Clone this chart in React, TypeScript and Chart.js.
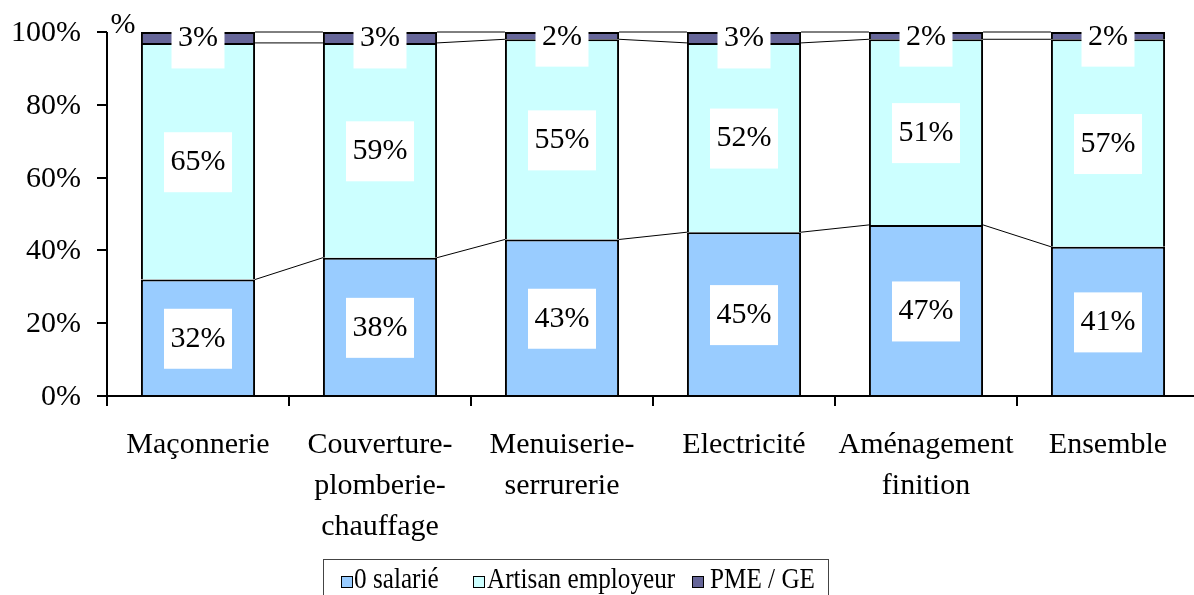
import React, { useEffect, useRef } from "react";
import { Chart, registerables } from "chart.js";

Chart.register(...registerables);

const categories: string[][] = [
  ["Maçonnerie"],
  ["Couverture-", "plomberie-", "chauffage"],
  ["Menuiserie-", "serrurerie"],
  ["Electricité"],
  ["Aménagement", "finition"],
  ["Ensemble"],
];
const seriesNames = ["0 salarié", "Artisan employeur", "PME / GE"];
const salarie = [32, 38, 43, 45, 47, 41];
const artisan = [65, 59, 55, 52, 51, 57];
const pme = [3, 3, 2, 3, 2, 2];
const yTicks = [0, 20, 40, 60, 80, 100];
const colors = ["#99CCFF", "#CCFFFF", "#666699"];

const W = 1210;
const H = 620;
const FONT = "'Liberation Serif', 'Times New Roman', serif";

const overlay = {
  id: "overlay",
  afterDatasetsDraw(chart: any) {
    const ctx = chart.ctx as CanvasRenderingContext2D;
    const area = chart.chartArea;
    const yScale = chart.scales.y;
    const xScale = chart.scales.x;
    ctx.save();

    // series lines between bars
    ctx.strokeStyle = "#000";
    ctx.lineWidth = 1;
    for (let d = 0; d < chart.data.datasets.length; d++) {
      const meta = chart.getDatasetMeta(d);
      for (let j = 0; j < meta.data.length - 1; j++) {
        const a: any = meta.data[j];
        const b: any = meta.data[j + 1];
        ctx.beginPath();
        ctx.moveTo(a.x + a.width / 2, a.y);
        ctx.lineTo(b.x - b.width / 2, b.y);
        ctx.stroke();
      }
    }

    // axes
    ctx.lineWidth = 2;
    ctx.beginPath();
    ctx.moveTo(area.left, area.top);
    ctx.lineTo(area.left, area.bottom);
    ctx.lineTo(W, area.bottom);
    ctx.stroke();

    ctx.fillStyle = "#000";
    ctx.font = `30px ${FONT}`;
    ctx.textAlign = "right";
    ctx.textBaseline = "middle";
    yTicks.forEach((t) => {
      const py = Math.round(yScale.getPixelForValue(t));
      ctx.beginPath();
      ctx.moveTo(area.left - 10, py);
      ctx.lineTo(area.left, py);
      ctx.stroke();
      ctx.fillText(`${t}%`, 81, py + 1);
    });

    const n = categories.length;
    const catW = (area.right - area.left) / n;
    for (let k = 0; k <= n; k++) {
      const px = Math.round(area.left + k * catW);
      ctx.beginPath();
      ctx.moveTo(px, area.bottom);
      ctx.lineTo(px, area.bottom + 10);
      ctx.stroke();
    }

    ctx.textAlign = "center";
    categories.forEach((lines, i) => {
      const cx = xScale.getPixelForValue(i);
      lines.forEach((ln, k) => {
        ctx.fillText(ln, cx, area.bottom + 49 + k * 41);
      });
    });

    ctx.fillText("%", 123, 25);

    // data labels with white boxes
    for (let d = 0; d < chart.data.datasets.length; d++) {
      const meta = chart.getDatasetMeta(d);
      const vals = chart.data.datasets[d].data as number[];
      meta.data.forEach((el: any, j: number) => {
        const txt = `${Math.round(vals[j])}%`;
        const cy = (el.y + el.base) / 2;
        const tw = ctx.measureText(txt).width;
        const bw = tw + 13;
        const bh = 60;
        ctx.fillStyle = "#fff";
        ctx.fillRect(el.x - bw / 2, cy - bh / 2 + 1, bw, bh);
        ctx.fillStyle = "#000";
        ctx.fillText(txt, el.x, cy + 1);
      });
    }
    ctx.restore();
  },
  afterDraw(chart: any) {
    const ctx = chart.ctx as CanvasRenderingContext2D;
    ctx.save();
    // legend frame
    ctx.strokeStyle = "#444";
    ctx.lineWidth = 1;
    ctx.strokeRect(323.5, 559.5, 505, 60);
    const markerX = [341, 473, 692];
    const textX = [354, 487, 710];
    ctx.font = `30px ${FONT}`;
    ctx.textAlign = "left";
    ctx.textBaseline = "alphabetic";
    seriesNames.forEach((name, i) => {
      ctx.fillStyle = colors[i];
      ctx.fillRect(markerX[i], 576, 11, 11);
      ctx.strokeStyle = "#000";
      ctx.strokeRect(markerX[i] + 0.5, 576.5, 11, 11);
      ctx.fillStyle = "#000";
      ctx.save();
      ctx.translate(textX[i], 588);
      ctx.scale(0.84, 1);
      ctx.fillText(name, 0, 0);
      ctx.restore();
    });
    ctx.restore();
  },
};

export default function App() {
  const ref = useRef<HTMLCanvasElement | null>(null);
  useEffect(() => {
    if (!ref.current) return;
    const chart = new Chart(ref.current, {
      type: "bar",
      data: {
        labels: categories.map((c) => c.join(" ")),
        datasets: [salarie, artisan, pme].map((vals, i) => ({
          label: seriesNames[i],
          data: vals,
          backgroundColor: colors[i],
          borderColor: "#000",
          borderWidth: 2,
          borderSkipped: "bottom" as const,
          categoryPercentage: 1,
          barPercentage: 0.627,
        })),
      },
      options: {
        animation: false,
        responsive: false,
        devicePixelRatio: 1,
        layout: { padding: { left: 107, top: 32, right: W - 1199, bottom: H - 396 } },
        plugins: { legend: { display: false }, tooltip: { enabled: false } },
        scales: {
          x: { stacked: true, display: false },
          y: { stacked: true, display: false, min: 0, max: 100 },
        },
      },
      plugins: [overlay],
    });
    return () => chart.destroy();
  }, []);
  return (
    <div
      style={{
        position: "fixed",
        left: 0,
        top: 0,
        width: 1194,
        height: 595,
        overflow: "hidden",
        background: "#fff",
      }}
    >
      <canvas ref={ref} width={W} height={H} style={{ display: "block", width: W, height: H }} />
    </div>
  );
}
